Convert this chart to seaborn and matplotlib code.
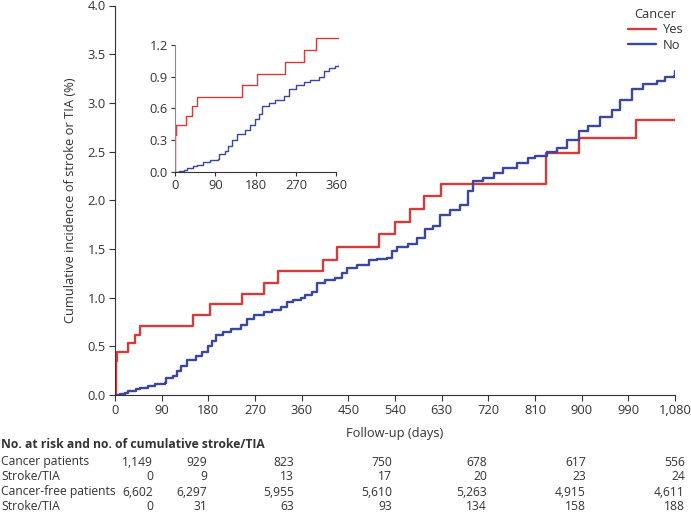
import pandas as pd
import matplotlib
matplotlib.use("Agg")
import matplotlib.pyplot as plt
import matplotlib.ticker as mticker
import seaborn as sns

# cumulative incidence (%), step-post
cancer_days = [0, 1, 3, 25, 38, 48, 150, 183, 245, 287, 315, 402, 428, 510, 540,
               568, 595, 628, 832, 894, 1004, 1080]
cancer_vals = [0, 0.35, 0.44, 0.53, 0.62, 0.71, 0.82, 0.93, 1.04, 1.15, 1.27, 1.39,
               1.52, 1.65, 1.78, 1.91, 2.04, 2.17, 2.49, 2.64, 2.82, 2.82]

free_days = [0, 10, 20, 26, 41, 48, 63, 78, 97, 99, 112, 119, 127, 138, 157, 168,
             179, 187, 194, 209, 224, 243, 254, 269, 287, 302, 321, 332, 343, 358,
             366, 379, 389, 405, 424, 437, 447, 466, 489, 505, 524, 534, 543, 566,
             582, 598, 614, 627, 646, 665, 681, 691, 710, 730, 749, 775, 797, 810,
             833, 852, 871, 894, 913, 935, 958, 974, 997, 1019, 1045, 1061, 1078, 1080]
free_vals = [0, 0.01, 0.02, 0.04, 0.06, 0.07, 0.09, 0.11, 0.12, 0.17, 0.20, 0.25,
             0.30, 0.36, 0.40, 0.44, 0.50, 0.55, 0.62, 0.65, 0.68, 0.72, 0.78, 0.82,
             0.85, 0.87, 0.90, 0.95, 0.98, 1.00, 1.03, 1.06, 1.15, 1.18, 1.20, 1.25,
             1.30, 1.33, 1.39, 1.40, 1.41, 1.48, 1.52, 1.55, 1.61, 1.70, 1.74, 1.85,
             1.90, 1.95, 2.10, 2.20, 2.23, 2.28, 2.33, 2.38, 2.43, 2.45, 2.50, 2.54,
             2.62, 2.71, 2.76, 2.86, 2.93, 3.03, 3.14, 3.19, 3.22, 3.27, 3.28, 3.33]

x_ticks = list(range(0, 1081, 90))
y_ticks = [0.0, 0.5, 1.0, 1.5, 2.0, 2.5, 3.0, 3.5, 4.0]
inset_xticks = [0, 90, 180, 270, 360]
inset_yticks = [0.0, 0.3, 0.6, 0.9, 1.2]

# risk table
row_labels = ["Cancer patients", "Stroke/TIA", "Cancer-free patients", "Stroke/TIA"]
risk_cancer = ["1,149", "929", "823", "750", "678", "617", "556"]
events_cancer = ["0", "9", "13", "17", "20", "23", "24"]
risk_free = ["6,602", "6,297", "5,955", "5,610", "5,263", "4,915", "4,611"]
events_free = ["0", "31", "63", "93", "134", "158", "188"]

RED = "#d43c3c"
BLUE = "#3b479c"
INK = "#333333"
FS = 9.3
TFS = 8.7

df = pd.concat([
    pd.DataFrame({"day": cancer_days, "pct": cancer_vals, "Cancer": "Yes"}),
    pd.DataFrame({"day": free_days, "pct": free_vals, "Cancer": "No"}),
])

sns.set_style("ticks")
plt.rcParams["font.family"] = ["Open Sans", "DejaVu Sans"]
plt.rcParams["font.size"] = FS
plt.rcParams["text.color"] = INK
plt.rcParams["axes.labelcolor"] = INK
plt.rcParams["xtick.color"] = INK
plt.rcParams["ytick.color"] = INK
plt.rcParams["axes.edgecolor"] = INK

W, H = 691, 516
fig = plt.figure(figsize=(W / 100, H / 100), dpi=100)
ax = fig.add_axes([115 / W, 1 - 395 / H, 560 / W, 389.5 / H])

sns.lineplot(data=df, x="day", y="pct", hue="Cancer", palette={"Yes": RED, "No": BLUE},
             estimator=None, drawstyle="steps-post", linewidth=1.7, ax=ax)
ax.set_xlim(0, 1080)
ax.set_ylim(0, 4.0)
ax.set_xticks(x_ticks)
ax.set_yticks(y_ticks)
ax.xaxis.set_major_formatter(mticker.FuncFormatter(lambda v, p: f"{int(v):,}"))
ax.yaxis.set_major_formatter(mticker.FormatStrFormatter("%.1f"))
ax.tick_params(labelsize=FS, length=4, width=0.8, pad=2.5)
ax.set_xlabel("Follow-up (days)", fontsize=FS, labelpad=7)
ax.set_ylabel("Cumulative incidence of stroke or TIA (%)", fontsize=FS, labelpad=8)
for s in ["top", "right"]:
    ax.spines[s].set_visible(False)
sns.move_legend(ax, "upper right", bbox_to_anchor=(1.0, 1.0), bbox_transform=fig.transFigure,
                frameon=False, fontsize=FS, title_fontsize=FS, handlelength=2.2,
                handletextpad=0.5, labelspacing=0.2, borderpad=0.1)

# inset: first year (y range runs a little past 1.2 so the top step shows)
ins_px_per_unit = 127 / 1.2
ins_top = 1.3
ins_h = ins_top * ins_px_per_unit
ins = fig.add_axes([175 / W, 1 - 172 / H, 164 / W, ins_h / H])
sns.lineplot(data=df, x="day", y="pct", hue="Cancer",
             palette={"Yes": RED, "No": BLUE}, estimator=None, drawstyle="steps-post",
             linewidth=1.0, legend=False, ax=ins)
ins.set_xlim(0, 366)
ins.set_ylim(0, ins_top)
ins.set_xticks(inset_xticks)
ins.set_yticks(inset_yticks)
ins.spines["left"].set_bounds(0, 1.2)
ins.spines["bottom"].set_bounds(0, 360)
ins.yaxis.set_major_formatter(mticker.FormatStrFormatter("%.1f"))
ins.tick_params(labelsize=FS, length=3, width=0.8, pad=2)
ins.set_xlabel("")
ins.set_ylabel("")
ins.patch.set_alpha(0)
for s in ["top", "right"]:
    ins.spines[s].set_visible(False)
ins.spines["left"].set_color("#888888")

# number at risk table
fig.text(1 / W, 1 - 445 / H, "No. at risk and no. of cumulative stroke/TIA",
         fontsize=TFS, fontweight="bold", va="center", ha="left")
col_right = [153, 207, 294, 392, 487, 586, 685]
rows = [risk_cancer, events_cancer, risk_free, events_free]
row_y = [462, 477, 492, 507]
for lab, vals, yy in zip(row_labels, rows, row_y):
    fig.text(1 / W, 1 - yy / H, lab, fontsize=TFS, va="center", ha="left")
    for xr, v in zip(col_right, vals):
        fig.text(xr / W, 1 - yy / H, v, fontsize=TFS, va="center", ha="right")

fig.savefig("out.png", dpi=100)
